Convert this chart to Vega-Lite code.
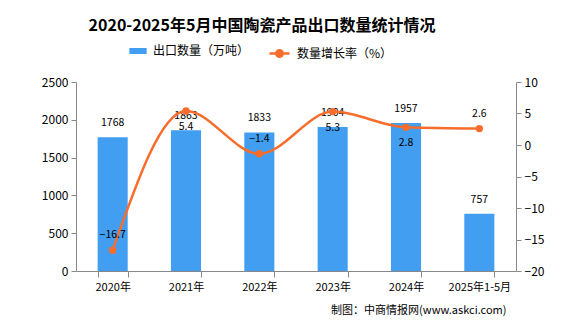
{
  "$schema": "https://vega.github.io/schema/vega-lite/v6.json",
  "width": 440,
  "height": 189,
  "autosize": {"type": "none"},
  "padding": {"left": 76, "top": 82, "right": 60, "bottom": 56},
  "background": "white",
  "title": {
    "text": "2020-2025年5月中国陶瓷产品出口数量统计情况",
    "font": "Noto Sans CJK SC",
    "fontSize": 16,
    "fontWeight": "bold",
    "color": "#000000",
    "anchor": "middle",
    "frame": "group",
    "dx": -34,
    "offset": 8
  },
  "data": {
    "values": [
      {"year": "2020年", "count": 1768, "rate": -16.7},
      {"year": "2021年", "count": 1863, "rate": 5.4},
      {"year": "2022年", "count": 1833, "rate": -1.4},
      {"year": "2023年", "count": 1904, "rate": 5.3},
      {"year": "2024年", "count": 1957, "rate": 2.8},
      {"year": "2025年1-5月", "count": 757, "rate": 2.6}
    ]
  },
  "config": {
    "view": {"stroke": null},
    "font": "Noto Sans CJK SC",
    "axis": {
      "grid": false,
      "domainColor": "#888888",
      "tickColor": "#888888",
      "labelColor": "#000000",
      "labelFontSize": 12,
      "labelFont": "Noto Sans CJK SC",
      "tickSize": 5
    }
  },
  "encoding": {
    "x": {
      "field": "year",
      "type": "ordinal",
      "sort": null,
      "scale": {"paddingInner": 0.59, "paddingOuter": 0.295},
      "axis": {
        "title": "制图：中商情报网(www.askci.com)",
        "titleAnchor": "end",
        "titleAlign": "right",
        "titleFontSize": 11,
        "titleFontWeight": "normal",
        "titleColor": "#000000",
        "titlePadding": 12,
        "titleX": 430,
        "labelAngle": 0,
        "labelFontSize": 11,
        "labelPadding": 4,
        "tickBand": "extent",
        "tickSize": 6
      }
    }
  },
  "layer": [
    {
      "mark": {"type": "bar", "color": "#419EF0"},
      "encoding": {
        "y": {
          "field": "count",
          "type": "quantitative",
          "scale": {"domain": [0, 2500]},
          "axis": {"title": null, "values": [0, 500, 1000, 1500, 2000, 2500], "format": "d", "labelPadding": 3}
        },
        "fill": {
          "datum": "出口数量（万吨）",
          "type": "nominal",
          "scale": {"range": ["#419EF0"]},
          "legend": {
            "title": null,
            "orient": "none",
            "legendX": 53,
            "legendY": -40,
            "padding": 0,
            "labelFontSize": 12,
            "labelColor": "#000000",
            "symbolType": "M-1,-0.35H1V0.35H-1Z",
            "symbolSize": 300,
            "symbolStrokeWidth": 0,
            "labelOffset": 6
          }
        }
      }
    },
    {
      "mark": {"type": "text", "dy": -14, "fontSize": 10.5, "color": "#000000"},
      "encoding": {
        "y": {"field": "count", "type": "quantitative", "scale": {"domain": [0, 2500]}, "axis": null},
        "text": {"field": "count", "type": "quantitative"}
      }
    },
    {
      "layer": [
        {
          "mark": {"type": "line", "interpolate": "monotone", "strokeWidth": 2.5, "color": "#F86D2C"},
          "encoding": {
            "stroke": {
              "datum": "数量增长率（%）",
              "type": "nominal",
              "scale": {"range": ["#F86D2C"]},
              "legend": {
                "title": null,
                "orient": "none",
                "legendX": 192,
                "legendY": -40,
                "padding": 0,
                "labelFontSize": 12,
                "labelColor": "#000000",
                "symbolType": "M-1,0H1M0.32,0A0.32,0.32 0 1,1 -0.32,0A0.32,0.32 0 1,1 0.32,0Z",
                "symbolSize": 400,
                "symbolStrokeWidth": 2.5,
                "symbolFillColor": "#F86D2C",
                "labelOffset": 6
              }
            }
          }
        },
        {
          "mark": {"type": "circle", "size": 55, "color": "#F86D2C", "opacity": 1}
        },
        {
          "transform": [{"filter": "datum.year == '2020年' || datum.year == '2022年' || datum.year == '2025年1-5月'"}],
          "mark": {"type": "text", "dy": -15, "fontSize": 10.5, "color": "#000000"},
          "encoding": {"text": {"field": "rate", "type": "quantitative", "format": ".1f"}}
        },
        {
          "transform": [{"filter": "datum.year == '2021年' || datum.year == '2023年' || datum.year == '2024年'"}],
          "mark": {"type": "text", "dy": 16, "fontSize": 10.5, "color": "#000000"},
          "encoding": {"text": {"field": "rate", "type": "quantitative", "format": ".1f"}}
        }
      ],
      "encoding": {
        "y": {
          "field": "rate",
          "type": "quantitative",
          "scale": {"domain": [-20, 10]},
          "axis": {"title": null, "orient": "right", "values": [-20, -15, -10, -5, 0, 5, 10], "labelPadding": 3}
        }
      }
    }
  ],
  "resolve": {"scale": {"y": "independent"}}
}
